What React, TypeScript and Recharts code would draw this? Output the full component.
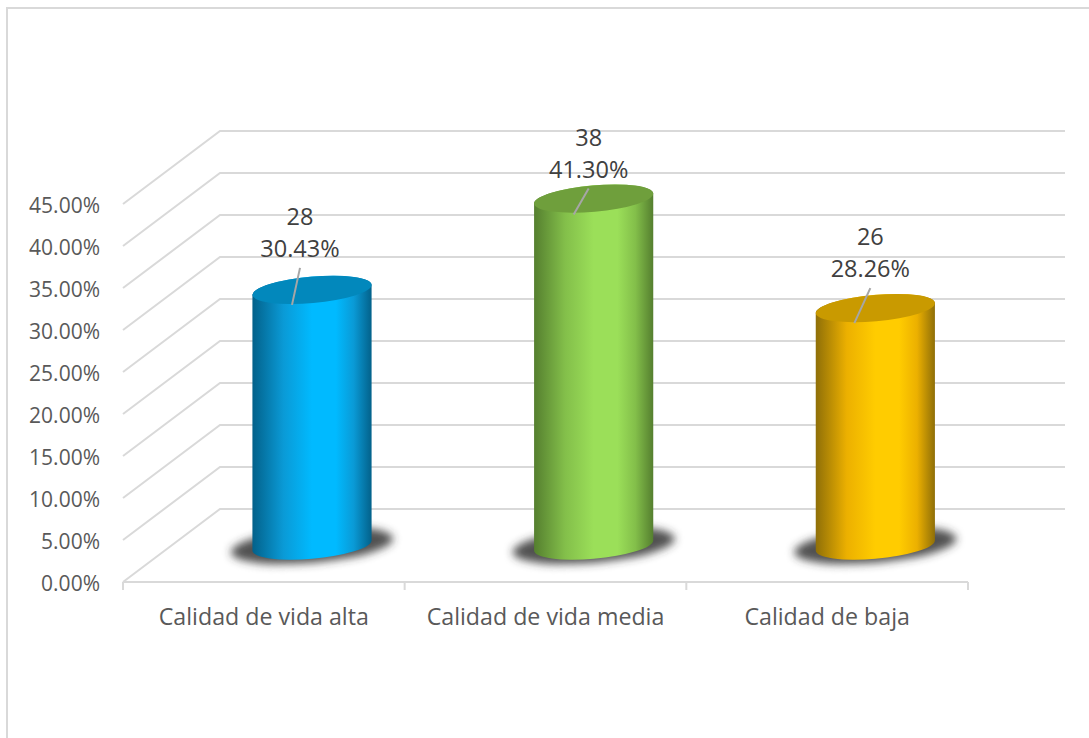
import { BarChart, Bar, XAxis, YAxis, CartesianGrid, LabelList } from 'recharts'

const categories = ['Calidad de vida alta', 'Calidad de vida media', 'Calidad de baja']
const counts = [28, 38, 26]
const shares = [30.43, 41.3, 28.26]
const valueTicks = [0, 5, 10, 15, 20, 25, 30, 35, 40, 45]

// edge, shoulder, bright middle, lid
const palettes = [
  { edge: '#03618a', side: '#0a9ad6', mid: '#00baff', lid: '#0288bc' },
  { edge: '#557f2f', side: '#83bf4a', mid: '#9bdf59', lid: '#6f9f3c' },
  { edge: '#8f6f08', side: '#ecb000', mid: '#ffcc00', lid: '#c99a00' },
]

// hand placement of the two-line labels, relative to the centre of each lid
const labelNudge = [
  { dx: -12, dy: -41 },
  { dx: -5, dy: -29 },
  { dx: -5, dy: -39 },
]
const leaderEnd = [
  { dx: -20, dy: 15 },
  { dx: -20, dy: 16 },
  { dx: -21, dy: 15 },
]

const WIDTH = 1089
const HEIGHT = 738
const PLOT_LEFT = 123
const PLOT_RIGHT = 968
const PLOT_TOP = 204
const PLOT_BOTTOM = 582
const BAND = (PLOT_RIGHT - PLOT_LEFT) / categories.length

// the floor runs this far back; bars stand halfway along it
const DEPTH_X = 97
const DEPTH_Y = 73

const LINE = '#d9d9d9'
const FONT = '"Open Sans", "Noto Sans", sans-serif'

const rows = categories.map((name, i) => ({ name, share: shares[i], count: counts[i] }))

function GridLine(props: any) {
  const { x1, x2, y1 } = props
  const points = `${x1},${y1} ${x1 + DEPTH_X},${y1 - DEPTH_Y} ${x2 + DEPTH_X},${y1 - DEPTH_Y}`
  return <polyline points={points} fill="none" stroke={LINE} strokeWidth={2} />
}

const TILT = (-5 * Math.PI) / 180
const LID_RATIO = 0.221

function Cylinder(props: any) {
  const { x, y, width, height, index } = props
  const colors = palettes[index]
  const cx = x + width / 2 + DEPTH_X / 2
  const topY = y - DEPTH_Y / 2
  const baseY = y + height - DEPTH_Y / 2
  const a = (width / 2) * 1.005
  const b = a * LID_RATIO
  // where the tilted ellipse has a vertical tangent, so the sides join it cleanly
  const t = Math.atan(-(b / a) * Math.tan(TILT))
  const ex = a * Math.cos(t) * Math.cos(TILT) - b * Math.sin(t) * Math.sin(TILT)
  const ey = a * Math.cos(t) * Math.sin(TILT) + b * Math.sin(t) * Math.cos(TILT)
  const deg = (TILT * 180) / Math.PI
  const body = [
    `M ${cx - ex} ${topY - ey}`,
    `L ${cx - ex} ${baseY - ey}`,
    `A ${a} ${b} ${deg} 0 0 ${cx + ex} ${baseY + ey}`,
    `L ${cx + ex} ${topY + ey}`,
    `A ${a} ${b} ${deg} 0 0 ${cx - ex} ${topY - ey}`,
    'Z',
  ].join(' ')
  const gradId = `cyl-body-${index}`
  const blurId = `cyl-shadow-${index}`
  return (
    <g>
      <defs>
        <linearGradient id={gradId} x1="0" y1="0" x2="1" y2="0">
          <stop offset="0%" stopColor={colors.edge} />
          <stop offset="26%" stopColor={colors.side} />
          <stop offset="50%" stopColor={colors.mid} />
          <stop offset="70%" stopColor={colors.mid} />
          <stop offset="85%" stopColor={colors.side} />
          <stop offset="100%" stopColor={colors.edge} />
        </linearGradient>
        <filter id={blurId} x="-20%" y="-50%" width="140%" height="200%">
          <feGaussianBlur stdDeviation="4" />
        </filter>
      </defs>
      <ellipse
        cx={cx}
        cy={baseY}
        rx={a * 1.36}
        ry={b * 1.3}
        transform={`rotate(${deg} ${cx} ${baseY})`}
        fill="#333333"
        fillOpacity={0.85}
        filter={`url(#${blurId})`}
      />
      <path d={body} fill={`url(#${gradId})`} />
      <ellipse
        cx={cx}
        cy={topY}
        rx={a}
        ry={b}
        transform={`rotate(${deg} ${cx} ${topY})`}
        fill={colors.lid}
      />
    </g>
  )
}

function ValueLabel(props: any) {
  const { x, y, width, index } = props
  const cx = x + width / 2 + DEPTH_X / 2
  const topY = y - DEPTH_Y / 2
  const nudge = labelNudge[index]
  const end = leaderEnd[index]
  const lx = cx + nudge.dx
  const ly = topY + nudge.dy
  return (
    <g fontFamily={FONT} fontSize={23.5} fill="#404040" textAnchor="middle">
      <line x1={lx} y1={ly + 19} x2={cx + end.dx} y2={topY + end.dy} stroke="#a6a6a6" strokeWidth={2} />
      <text x={lx} y={ly - 24}>{counts[index]}</text>
      <text x={lx} y={ly + 8}>{shares[index].toFixed(2)}%</text>
    </g>
  )
}

// category name plus the boundary ticks either side of the band
function CategoryTick(props: any) {
  const { x, payload, index } = props
  const left = x - BAND / 2
  return (
    <g>
      <line x1={left} y1={PLOT_BOTTOM} x2={left} y2={PLOT_BOTTOM + 8} stroke={LINE} strokeWidth={2} />
      {index === categories.length - 1 && (
        <line x1={x + BAND / 2} y1={PLOT_BOTTOM} x2={x + BAND / 2} y2={PLOT_BOTTOM + 8} stroke={LINE} strokeWidth={2} />
      )}
      <text x={x} y={PLOT_BOTTOM + 43} textAnchor="middle" fontFamily={FONT} fontSize={23.2} fill="#595959">
        {payload.value}
      </text>
    </g>
  )
}

export default function App() {
  return (
    <div style={{ position: 'absolute', left: 0, top: 0, width: WIDTH, height: HEIGHT, background: '#fff', overflow: 'hidden' }}>
      <div
        style={{
          position: 'absolute',
          left: 6,
          top: 7,
          width: WIDTH,
          height: HEIGHT,
          borderLeft: `2px solid ${LINE}`,
          borderTop: `2px solid ${LINE}`,
        }}
      />
      <BarChart
        width={WIDTH}
        height={HEIGHT}
        data={rows}
        barSize={119}
        margin={{ top: PLOT_TOP, right: WIDTH - PLOT_RIGHT, bottom: 0, left: 0 }}
        style={{ position: 'absolute', left: 0, top: 0 }}
      >
        <CartesianGrid vertical={false} horizontal={(p: any) => <GridLine key={p.key} {...p} />} />
        <XAxis
          dataKey="name"
          interval={0}
          height={HEIGHT - PLOT_BOTTOM}
          tickLine={false}
          axisLine={{ stroke: LINE, strokeWidth: 2 }}
          tick={<CategoryTick />}
        />
        <YAxis
          width={PLOT_LEFT}
          domain={[0, 45]}
          ticks={valueTicks}
          interval={0}
          axisLine={false}
          tickLine={false}
          tickMargin={17}
          tickFormatter={(v: number) => `${v.toFixed(2)}%`}
          tick={{ fill: '#595959', fontSize: 21, fontFamily: FONT, dy: 2 }}
        />
        <Bar dataKey="share" isAnimationActive={false} shape={<Cylinder />}>
          <LabelList dataKey="share" content={<ValueLabel />} />
        </Bar>
      </BarChart>
    </div>
  )
}
